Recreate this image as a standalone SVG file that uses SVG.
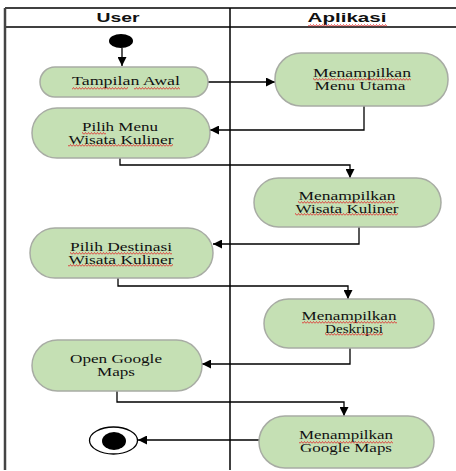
<svg xmlns="http://www.w3.org/2000/svg" width="456" height="471" viewBox="0 0 456 471">
  <defs>
    <marker id="arrow" viewBox="0 0 10 10" refX="10" refY="5" markerWidth="9" markerHeight="9" markerUnits="userSpaceOnUse" orient="auto">
      <path d="M0 0 L10 5 L0 10 Z" fill="#000"/>
    </marker>
    <pattern id="squiggle" x="0" y="0" width="3" height="3" patternUnits="userSpaceOnUse">
      <path d="M0 2.5 L1.5 0.5 L3 2.5" fill="none" stroke="#e02828" stroke-width="0.8"/>
    </pattern>
    <style>
      .lane { stroke: #000; stroke-width: 1.5; fill: none; }
      .border { stroke: #444; stroke-width: 2.5; fill: none; }
      .act { fill: #c5e0b4; stroke: #a8aca4; stroke-width: 1.5; }
      .lbl { font-family: "Liberation Serif", "Times New Roman", serif; font-size: 11.5px; fill: #111; text-anchor: middle; }
      .hdr { font-family: "Liberation Sans", Arial, sans-serif; font-size: 13px; font-weight: bold; fill: #111; text-anchor: middle; }
      .flow { stroke: #000; stroke-width: 1.3; fill: none; }
      .sq { fill: url(#squiggle); }
    </style>
  </defs>

  <rect width="456" height="471" fill="#fff"/>

  <!-- swimlane frame -->
  <g id="lanes">
    <line class="lane" x1="5" y1="8" x2="456" y2="8"/>
    <line class="lane" x1="5" y1="27" x2="456" y2="27"/>
    <line class="lane" x1="230" y1="8" x2="230" y2="470"/>
    <line class="border" x1="5" y1="8" x2="5" y2="470"/>
    <text class="hdr" x="118" y="22" textLength="43" lengthAdjust="spacingAndGlyphs">User</text>
    <text class="hdr" x="347" y="22" textLength="79" lengthAdjust="spacingAndGlyphs">Aplikasi</text>
    <rect class="sq" x="308" y="24" width="79" height="3"/>
  </g>

  <!-- connectors -->
  <g id="connectors">
    <line class="flow" x1="122" y1="48" x2="122" y2="66" marker-end="url(#arrow)"/>
    <line class="flow" x1="208" y1="82" x2="275" y2="82" marker-end="url(#arrow)"/>
    <polyline class="flow" points="364,106 364,130 210,130" marker-end="url(#arrow)"/>
    <polyline class="flow" points="120,158 120,165 350,165 350,178" marker-end="url(#arrow)"/>
    <polyline class="flow" points="359,227 359,244 213,244" marker-end="url(#arrow)"/>
    <polyline class="flow" points="118,278 118,286 348,286 348,299" marker-end="url(#arrow)"/>
    <polyline class="flow" points="350,348 350,364 202,364" marker-end="url(#arrow)"/>
    <polyline class="flow" points="117,391 117,402 344,402 344,416" marker-end="url(#arrow)"/>
    <line class="flow" x1="259" y1="440" x2="138" y2="440" marker-end="url(#arrow)"/>
  </g>

  <g id="start">
    <ellipse cx="121" cy="41" rx="12" ry="7" fill="#000"/>
  </g>

  <g id="tampilan-awal">
    <rect class="act" x="40" y="67" width="168" height="30" rx="15"/>
    <text class="lbl" x="126" y="85" textLength="108" lengthAdjust="spacingAndGlyphs">Tampilan Awal</text>
    <rect class="sq" x="72" y="87" width="56" height="3"/>
    <rect class="sq" x="134" y="87" width="46" height="3"/>
  </g>

  <g id="menu-utama">
    <rect class="act" x="275" y="53" width="173" height="53" rx="26"/>
    <text class="lbl" x="362" y="77" textLength="98" lengthAdjust="spacingAndGlyphs">Menampilkan</text>
    <text class="lbl" x="360" y="90" textLength="91" lengthAdjust="spacingAndGlyphs">Menu Utama</text>
    <rect class="sq" x="313" y="78" width="98" height="3"/>
  </g>

  <g id="pilih-menu">
    <rect class="act" x="32" y="108" width="178" height="50" rx="25"/>
    <text class="lbl" x="120" y="131" textLength="76" lengthAdjust="spacingAndGlyphs">Pilih Menu</text>
    <text class="lbl" x="121" y="144" textLength="105" lengthAdjust="spacingAndGlyphs">Wisata Kuliner</text>
    <rect class="sq" x="82" y="132" width="24" height="3"/>
    <rect class="sq" x="68" y="144" width="105" height="3"/>
  </g>

  <g id="tampil-kuliner">
    <rect class="act" x="254" y="178" width="187" height="49" rx="24.5"/>
    <text class="lbl" x="347" y="200" textLength="97" lengthAdjust="spacingAndGlyphs">Menampilkan</text>
    <text class="lbl" x="347" y="213" textLength="103" lengthAdjust="spacingAndGlyphs">Wisata Kuliner</text>
    <rect class="sq" x="298" y="201" width="97" height="3"/>
    <rect class="sq" x="295" y="213" width="103" height="3"/>
  </g>

  <g id="pilih-destinasi">
    <rect class="act" x="30" y="228" width="183" height="50" rx="25"/>
    <text class="lbl" x="121" y="251" textLength="102" lengthAdjust="spacingAndGlyphs">Pilih Destinasi</text>
    <text class="lbl" x="121" y="264" textLength="105" lengthAdjust="spacingAndGlyphs">Wisata Kuliner</text>
    <rect class="sq" x="70" y="252" width="102" height="3"/>
    <rect class="sq" x="68" y="264" width="105" height="3"/>
  </g>

  <g id="deskripsi">
    <rect class="act" x="264" y="299" width="170" height="49" rx="24.5"/>
    <text class="lbl" x="349" y="320" textLength="95" lengthAdjust="spacingAndGlyphs">Menampilkan</text>
    <text class="lbl" x="354" y="333" textLength="58" lengthAdjust="spacingAndGlyphs">Deskripsi</text>
    <rect class="sq" x="302" y="321" width="95" height="3"/>
    <rect class="sq" x="325" y="333" width="58" height="3"/>
  </g>

  <g id="open-maps">
    <rect class="act" x="32" y="340" width="170" height="51" rx="25.5"/>
    <text class="lbl" x="116" y="363" textLength="92" lengthAdjust="spacingAndGlyphs">Open Google</text>
    <text class="lbl" x="116" y="376" textLength="38" lengthAdjust="spacingAndGlyphs">Maps</text>
  </g>

  <g id="tampil-maps">
    <rect class="act" x="259" y="416" width="175" height="52" rx="26"/>
    <text class="lbl" x="346" y="439" textLength="94" lengthAdjust="spacingAndGlyphs">Menampilkan</text>
    <text class="lbl" x="346" y="452" textLength="92" lengthAdjust="spacingAndGlyphs">Google Maps</text>
    <rect class="sq" x="299" y="441" width="94" height="3"/>
  </g>

  <g id="end">
    <ellipse cx="113.5" cy="440.5" rx="24" ry="13.5" fill="#fff" stroke="#000" stroke-width="1.3"/>
    <ellipse cx="114" cy="441" rx="12" ry="9" fill="#000"/>
  </g>
</svg>
